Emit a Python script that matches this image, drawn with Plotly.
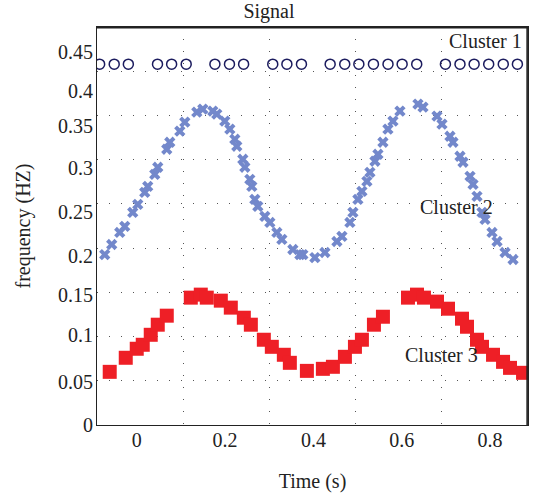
import plotly.graph_objects as go

# ---------------- data ----------------
# Cluster 1 (open circles)
c1_x = [-0.084, -0.051, -0.019, 0.047, 0.079, 0.112, 0.177, 0.210, 0.242,
        0.308, 0.340, 0.373, 0.438, 0.471, 0.503, 0.536, 0.569, 0.601, 0.634,
        0.699, 0.732, 0.764, 0.797, 0.830, 0.862]
c1_y = [0.408] * len(c1_x)

# Cluster 2 (blue crosses)
c2_x = [-0.0725, -0.0567, -0.0385, -0.0272, -0.0091, 0.0023, 0.0181, 0.0249,
        0.0408, 0.0476, 0.0680, 0.0748, 0.0975, 0.1088, 0.1360, 0.1496,
        0.1722, 0.1813, 0.1994, 0.2108, 0.2221, 0.2266, 0.2402, 0.2448,
        0.2561, 0.2606, 0.2674, 0.2742, 0.2901, 0.3014, 0.3173, 0.3286,
        0.3535, 0.3694, 0.3762, 0.4034, 0.4261, 0.4533, 0.4646, 0.4827,
        0.4895, 0.5008, 0.5099, 0.5212, 0.5280, 0.5394, 0.5462, 0.5575,
        0.5688, 0.5802, 0.5960, 0.6368, 0.6482, 0.6799, 0.6912, 0.7093,
        0.7161, 0.7320, 0.7388, 0.7547, 0.7615, 0.7705, 0.7819, 0.7887,
        0.8045, 0.8159, 0.8340, 0.8521]
c2_y = [0.1927, 0.2041, 0.2177, 0.2245, 0.2404, 0.2494, 0.2630, 0.2698,
        0.2834, 0.2914, 0.3118, 0.3197, 0.3322, 0.3424, 0.3537, 0.3571,
        0.3549, 0.3515, 0.3435, 0.3345, 0.3231, 0.3152, 0.3005, 0.2914,
        0.2778, 0.2698, 0.2551, 0.2472, 0.2358, 0.2290, 0.2177, 0.2098,
        0.1984, 0.1927, 0.1927, 0.1893, 0.1950, 0.2075, 0.2132, 0.2290,
        0.2404, 0.2551, 0.2642, 0.2755, 0.2857, 0.2982, 0.3061, 0.3197,
        0.3345, 0.3435, 0.3549, 0.3628, 0.3594, 0.3492, 0.3401, 0.3265,
        0.3197, 0.3039, 0.2971, 0.2812, 0.2721, 0.2585, 0.2404, 0.2324,
        0.2177, 0.2075, 0.1950, 0.1871]

# Cluster 3 (red squares)
c3_x = [-0.0612, -0.0249, 0.0000, 0.0136, 0.0317, 0.0476, 0.0680, 0.1224,
        0.1450, 0.1586, 0.1904, 0.2130, 0.2425, 0.2584, 0.2878, 0.3059,
        0.3331, 0.3467, 0.3853, 0.4215, 0.4442, 0.4714, 0.4941, 0.5099,
        0.5371, 0.5575, 0.6142, 0.6346, 0.6504, 0.6799, 0.7048, 0.7365,
        0.7479, 0.7705, 0.7819, 0.8068, 0.8295, 0.8453, 0.8748]
c3_y = [0.0601, 0.0760, 0.0862, 0.0907, 0.1020, 0.1134, 0.1236, 0.1440,
        0.1474, 0.1440, 0.1406, 0.1327, 0.1213, 0.1134, 0.0964, 0.0884,
        0.0794, 0.0703, 0.0612, 0.0635, 0.0658, 0.0771, 0.0884, 0.0964,
        0.1134, 0.1224, 0.1440, 0.1474, 0.1440, 0.1395, 0.1315, 0.1202,
        0.1111, 0.0964, 0.0884, 0.0794, 0.0714, 0.0646, 0.0590]

# axis ticks
x_range = [-0.090, 0.886]
y_range = [0, 0.45]
x_tick_vals = [0, 0.2, 0.4, 0.6, 0.8]
x_tick_text = ["0", "0.2", "0.4", "0.6", "0.8"]
x_grid_vals = [0.1065, 0.3014, 0.4963, 0.6912]
y_tick_vals = [0.0, 0.0488, 0.1020, 0.1474, 0.1916, 0.2404, 0.2902, 0.3379, 0.3776, 0.4218]
y_tick_text = ["0", "0.05", "0.1", "0.15", "0.2", "0.25", "0.3", "0.35", "0.4", "0.45"]
y_grid_vals = [0.05, 0.10, 0.15, 0.20, 0.25, 0.30, 0.35, 0.40]

cluster_labels = ["Cluster 1", "Cluster 2", "Cluster 3"]
label_x = [0.790, 0.724, 0.689]
label_y = [0.434, 0.246, 0.0794]

FONT = "Liberation Serif, DejaVu Serif, serif"
TXT = "#222222"
GRID = "#555555"
LINE = "#222222"

fig = go.Figure()
fig.add_trace(go.Scatter(x=c2_x, y=c2_y, mode="markers",
                         marker=dict(symbol="x", size=10, color="#7388cb",
                                     line=dict(width=0)),
                         showlegend=False, hoverinfo="skip"))
fig.add_trace(go.Scatter(x=c3_x, y=c3_y, mode="markers",
                         marker=dict(symbol="square", size=14, color="#ee1f26",
                                     line=dict(width=0)),
                         showlegend=False, hoverinfo="skip"))
fig.add_trace(go.Scatter(x=c1_x, y=c1_y, mode="markers",
                         marker=dict(symbol="circle-open", size=10, color="#1b1b5e",
                                     line=dict(width=1.5)),
                         showlegend=False, hoverinfo="skip"))
# invisible trace that carries the label axes
fig.add_trace(go.Scatter(x=[x_range[0]], y=[y_range[0]], xaxis="x2", yaxis="y2",
                         mode="markers", marker=dict(size=1, opacity=0),
                         showlegend=False, hoverinfo="skip"))

for t, xx, yy in zip(cluster_labels, label_x, label_y):
    fig.add_annotation(x=xx, y=yy, text=t, showarrow=False,
                       font=dict(family=FONT, size=20, color=TXT))

# plot frame (top and right edges drawn just inside the plot area)
fig.add_shape(type="line", xref="paper", yref="paper", x0=0, y0=0.998, x1=1, y1=0.998,
              line=dict(color=LINE, width=1.6), layer="above")
fig.add_shape(type="line", xref="paper", yref="paper", x0=0.998, y0=0, x1=0.998, y1=1,
              line=dict(color=LINE, width=1.6), layer="above")

fig.update_layout(
    width=538, height=498,
    margin=dict(l=97, r=10, t=27, b=73),
    paper_bgcolor="white", plot_bgcolor="white",
    title=dict(text="Signal", x=0.5, xanchor="center", y=0.977, yanchor="middle",
               font=dict(family=FONT, size=20, color=TXT)),
    # grid axes (carry the data)
    xaxis=dict(range=x_range, tickmode="array", tickvals=x_grid_vals,
               showticklabels=False, ticks="", showgrid=True, gridcolor=GRID,
               griddash="1px,11px", gridwidth=1, zeroline=False,
               showline=True, linecolor=LINE, linewidth=1.2, mirror=True),
    yaxis=dict(range=y_range, tickmode="array", tickvals=y_grid_vals,
               showticklabels=False, ticks="", showgrid=True, gridcolor=GRID,
               griddash="1px,11px", gridwidth=1, zeroline=False,
               showline=True, linecolor=LINE, linewidth=1.2, mirror=True),
    # label axes
    xaxis2=dict(range=x_range, overlaying="x", anchor="y", side="bottom",
                tickmode="array", tickvals=x_tick_vals, ticktext=x_tick_text,
                ticks="", showgrid=False, zeroline=False, showline=False,
                ticklabelstandoff=1,
                tickfont=dict(family=FONT, size=20, color=TXT),
                title=dict(text="Time (s)", font=dict(family=FONT, size=20, color=TXT),
                           standoff=23)),
    yaxis2=dict(range=y_range, overlaying="y", anchor="x", side="left",
                tickmode="array", tickvals=y_tick_vals, ticktext=y_tick_text,
                ticks="", showgrid=False, zeroline=False, showline=False,
                ticklabelstandoff=3,
                tickfont=dict(family=FONT, size=20, color=TXT),
                title=dict(text="frequency (HZ)", font=dict(family=FONT, size=20, color=TXT),
                           standoff=22)),
)

fig.write_html("out.html", config={"displayModeBar": False},
               post_script="document.body.style.margin='0';")
